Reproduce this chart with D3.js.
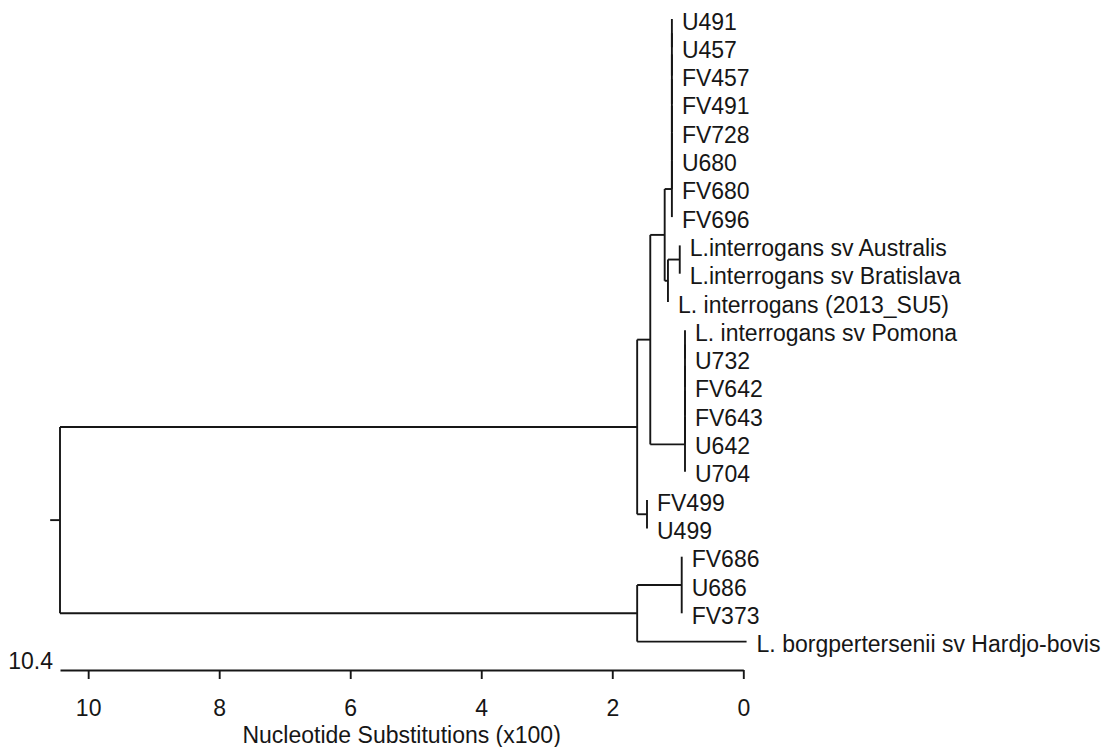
<!DOCTYPE html>
<html>
<head>
<meta charset="utf-8">
<script src="https://cdn.jsdelivr.net/npm/d3@7"></script>
<style>
  html, body { margin: 0; padding: 0; background: #ffffff; }
  svg { display: block; }
  text { font-family: "Liberation Sans", Arial, sans-serif; font-size: 23px; fill: #161616; }
</style>
</head>
<body>
<svg id="chart" width="1105" height="747"></svg>
<script>
// ---- Data ----
// Leaf order, top to bottom
const leafNames = [
  "U491", "U457", "FV457", "FV491", "FV728", "U680", "FV680", "FV696",
  "L.interrogans sv Australis", "L.interrogans sv Bratislava",
  "L. interrogans (2013_SU5)",
  "L. interrogans sv Pomona", "U732", "FV642", "FV643", "U642", "U704",
  "FV499", "U499",
  "FV686", "U686", "FV373",
  "L. borgpertersenii sv Hardjo-bovis"
];
// Internal nodes, their heights (Nucleotide Substitutions x100, measured from the right) and children
const nodeIds     = ["root", "G", "J", "F", "H", "D", "E", "A", "C", "B", "I"];
const nodeHeights = [10.43, 1.62, 1.62, 1.42, 1.47, 1.20, 0.89, 1.09, 1.15, 0.97, 0.94];
const nodeChildren = [
  ["G", "J"],
  ["F", "H"],
  ["I", "L. borgpertersenii sv Hardjo-bovis"],
  ["D", "E"],
  ["FV499", "U499"],
  ["A", "C"],
  ["L. interrogans sv Pomona", "U732", "FV642", "FV643", "U642", "U704"],
  ["U491", "U457", "FV457", "FV491", "FV728", "U680", "FV680", "FV696"],
  ["B", "L. interrogans (2013_SU5)"],
  ["L.interrogans sv Australis", "L.interrogans sv Bratislava"],
  ["FV686", "U686", "FV373"]
];
// Polytomies that the program resolved as successive (zero-length) binary joins
const ladderNodes = ["A", "E"];
// Tips whose branch does not have zero length
const tipNames   = ["L. borgpertersenii sv Hardjo-bovis"];
const tipHeights = [-0.05];
// Axis
const tickValues = [10, 8, 6, 4, 2, 0];
const axisTitle  = "Nucleotide Substitutions (x100)";
const rootStub   = 0.15;

// ---- Build the tree ----
function build(id, parentH) {
  const ni = nodeIds.indexOf(id);
  if (ni < 0) {
    const ti = tipNames.indexOf(id);
    return { name: id, h: ti >= 0 ? tipHeights[ti] : parentH };
  }
  const h = nodeHeights[ni];
  const kids = nodeChildren[ni].map(c => build(c, h));
  if (ladderNodes.includes(id)) {
    let cur = kids[0];
    for (let k = 1; k < kids.length; k++) {
      cur = { name: id + "_" + k, h: h, children: [cur, kids[k]] };
    }
    cur.name = id;
    return cur;
  }
  return { name: id, h: h, children: kids };
}
const root = d3.hierarchy(build("root", null));

// ---- Scales ----
const svg = d3.select("#chart");
const x = d3.scaleLinear().domain([nodeHeights[0], 0]).range([60, 743.3]);
const y = d3.scalePoint().domain(leafNames).range([19, 641.6]);

root.eachAfter(d => {
  if (d.children) {
    d.y = (d.children[0].y + d.children[d.children.length - 1].y) / 2;
  } else {
    d.y = y(d.data.name);
  }
});

const g = svg.append("g");
const stroke = "#161616", sw = 1.9;

// horizontal branches
g.selectAll("path.branch")
  .data(root.descendants().filter(d => d.parent))
  .join("path")
  .attr("class", "branch")
  .attr("d", d => `M${x(d.parent.data.h)},${d.y}H${x(d.data.h)}`)
  .attr("fill", "none").attr("stroke", stroke).attr("stroke-width", sw);

// vertical connectors
g.selectAll("line.vert")
  .data(root.descendants().filter(d => d.children))
  .join("line")
  .attr("class", "vert")
  .attr("x1", d => x(d.data.h)).attr("x2", d => x(d.data.h))
  .attr("y1", d => d.children[0].y)
  .attr("y2", d => d.children[d.children.length - 1].y)
  .attr("stroke", stroke).attr("stroke-width", sw);

// root stub
g.append("path")
  .attr("d", `M${x(root.data.h + rootStub)},${root.y}H${x(root.data.h)}`)
  .attr("stroke", stroke).attr("stroke-width", sw);

// leaf labels
g.selectAll("text.leaf")
  .data(root.leaves())
  .join("text")
  .attr("class", "leaf")
  .attr("x", d => x(d.data.h) + 10)
  .attr("y", d => d.y + 10.5)
  .text(d => d.data.name);

// ---- Axis ----
const axisY = 670;
const axis = d3.axisBottom(x)
  .tickValues(tickValues)
  .tickFormat(d3.format("d"))
  .tickSizeInner(9)
  .tickSizeOuter(0)
  .tickPadding(21);
const ag = svg.append("g").attr("transform", `translate(0,${axisY})`).call(axis);
ag.attr("font-family", null).attr("font-size", null);
ag.selectAll("path.domain").attr("stroke", stroke).attr("stroke-width", sw);
ag.selectAll(".tick line").attr("stroke", stroke).attr("stroke-width", sw);
ag.selectAll(".tick text").attr("fill", "#161616");

svg.append("text")
  .attr("x", x(root.data.h) - 7)
  .attr("y", axisY - 1)
  .attr("text-anchor", "end")
  .text(d3.format(".1f")(root.data.h));

svg.append("text")
  .attr("x", (x.range()[0] + x.range()[1]) / 2)
  .attr("y", 743)
  .attr("text-anchor", "middle")
  .text(axisTitle);
</script>
</body>
</html>
